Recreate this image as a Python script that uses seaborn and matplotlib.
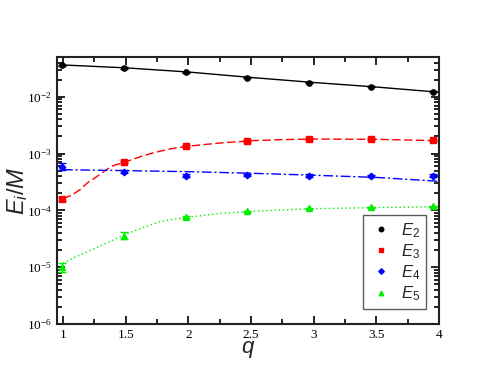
import matplotlib
matplotlib.use('Agg')
import matplotlib.pyplot as plt
import seaborn as sns
import pandas as pd
from matplotlib.ticker import MultipleLocator, LogLocator, LogFormatterMathtext, NullFormatter

# data points
q = [0.99, 1.49, 1.98, 2.47, 2.96, 3.46, 3.95]
E2 = [0.036, 0.032, 0.027, 0.0215, 0.0177, 0.0150, 0.0122]
E2_err = [0.0008, 0.0007, 0.0006, 0.0005, 0.0004, 0.0003, 0.0003]
E3 = [1.58e-4, 7.2e-4, 1.36e-3, 1.68e-3, 1.80e-3, 1.78e-3, 1.70e-3]
E3_err = [1.2e-5, 3e-5, 5e-5, 6e-5, 6e-5, 6e-5, 6e-5]
E4 = [5.9e-4, 4.8e-4, 4.1e-4, 4.2e-4, 4.1e-4, 4.05e-4, 4.1e-4]
E4_err = [8e-5, 3e-5, 2e-5, 2e-5, 2e-5, 2e-5, 2e-5]
E5 = [1.0e-5, 3.6e-5, 7.5e-5, 9.6e-5, 1.08e-4, 1.13e-4, 1.17e-4]
E5_err = [1.8e-6, 5e-6, 3e-6, 3e-6, 3e-6, 3e-6, 3e-6]

# fit curves
q2_fit = [1.0, 1.5, 2.0, 2.5, 3.0, 3.5, 4.0]
E2_fit = [0.0362, 0.0322, 0.0272, 0.0218, 0.0178, 0.0148, 0.0120]
q3_fit = [1.0, 1.07, 1.136, 1.2, 1.26, 1.31, 1.39, 1.495, 1.628, 1.734, 1.867, 2.0,
          2.25, 2.5, 2.75, 3.0, 3.5, 4.0]
E3_fit = [1.62e-4, 1.85e-4, 2.32e-4, 3.12e-4, 3.8e-4, 4.57e-4, 6.0e-4, 7.1e-4, 8.97e-4,
          1.05e-3, 1.22e-3, 1.35e-3, 1.53e-3, 1.68e-3, 1.76e-3, 1.80e-3, 1.78e-3, 1.68e-3]
q4_fit = [1.0, 1.5, 2.0, 2.5, 3.0, 3.5, 4.0]
E4_fit = [5.2e-4, 5.0e-4, 4.8e-4, 4.5e-4, 4.15e-4, 3.8e-4, 3.25e-4]
q5_fit = [1.0, 1.096, 1.2, 1.335, 1.495, 1.628, 1.76, 1.867, 2.0, 2.25, 2.5, 2.75,
          3.0, 3.5, 4.0]
E5_fit = [1.17e-5, 1.5e-5, 1.89e-5, 2.58e-5, 3.72e-5, 4.9e-5, 6.2e-5, 6.9e-5, 7.6e-5,
          8.8e-5, 9.6e-5, 1.02e-4, 1.07e-4, 1.12e-4, 1.16e-4]

labels = [r'$E_2$', r'$E_3$', r'$E_4$', r'$E_5$']
colors = ['black', 'red', 'blue', '#00ee00']
markers = ['o', 's', 'D', '^']
dashes = ['-', (0, (6, 2.5)), (0, (7, 2, 1.5, 2)), (0, (1, 2))]

sns.set_style('ticks')
plt.rcParams['font.family'] = ['Liberation Serif', 'DejaVu Serif']
plt.rcParams['mathtext.fontset'] = 'custom'
plt.rcParams['mathtext.it'] = 'Liberation Sans:italic'
plt.rcParams['mathtext.rm'] = 'Liberation Sans'

fig = plt.figure(figsize=(4.94, 3.82), dpi=100)
ax = fig.add_axes([0.1154, 0.1518, 0.7733, 0.699])

fit_q = [q2_fit, q3_fit, q4_fit, q5_fit]
fits = [E2_fit, E3_fit, E4_fit, E5_fit]
vals = [E2, E3, E4, E5]
errs = [E2_err, E3_err, E4_err, E5_err]
for i in range(4):
    df = pd.DataFrame({'q': fit_q[i], 'E': fits[i]})
    sns.lineplot(data=df, x='q', y='E', ax=ax, color=colors[i], lw=1.0, legend=False)
    ax.lines[-1].set_linestyle(dashes[i])
    ax.errorbar(q, vals[i], yerr=errs[i], fmt='none', ecolor=colors[i],
                elinewidth=1.0, capsize=3, capthick=1.0)
    ax.plot(q, vals[i], linestyle='none', marker=markers[i], color=colors[i],
            markersize=3.8 if i != 2 else 3.3, label=labels[i])

ax.set_yscale('log')
ax.set_xlim(0.952, 4.0)
ax.set_ylim(1e-6, 0.05)

ax.set_xticks([1, 1.5, 2, 2.5, 3, 3.5, 4])
ax.set_xticklabels(['1', '1.5', '2', '2.5', '3', '3.5', '4'])
ax.xaxis.set_minor_locator(MultipleLocator(0.25))
ax.yaxis.set_major_locator(LogLocator(base=10, numticks=10))
ax.yaxis.set_minor_locator(LogLocator(base=10, subs=range(2, 10), numticks=20))
ax.yaxis.set_major_formatter(LogFormatterMathtext())
ax.yaxis.set_minor_formatter(NullFormatter())

ax.tick_params(which='both', direction='in', top=True, right=True, width=1.2,
               labelsize=9.5, colors='black')
ax.tick_params(which='major', length=6)
ax.tick_params(which='minor', length=3.5)
for s in ax.spines.values():
    s.set_linewidth(1.5)
    s.set_color('#222222')
    s.set_visible(True)

ax.set_xlabel(r'$q$', fontsize=16, labelpad=-1)
ax.set_ylabel(r'$E_i/M$', fontsize=17, labelpad=-2)

leg = ax.legend(loc='lower right', bbox_to_anchor=(0.965, 0.056), fontsize=12,
                frameon=True, fancybox=False, handlelength=1.4, handletextpad=0.5,
                borderpad=0.35, labelspacing=0.15, markerscale=0.85, borderaxespad=0)
leg.get_frame().set_edgecolor('#333333')
leg.get_frame().set_linewidth(1.0)

fig.savefig('out.png', dpi=100)
